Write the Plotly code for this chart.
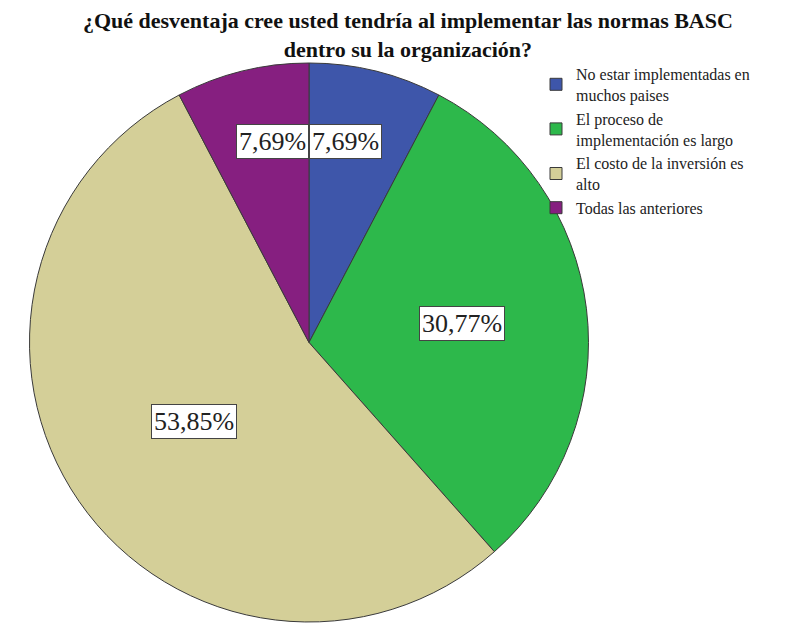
import math
import plotly.graph_objects as go

categories = [
    "No estar implementadas en<br>muchos paises",
    "El proceso de<br>implementación es largo",
    "El costo de la inversión es<br>alto",
    "Todas las anteriores",
]
percentages = [7.69, 30.77, 53.85, 7.69]
value_labels = ["7,69%", "30,77%", "53,85%", "7,69%"]
colors = ["#3E56AA", "#2DB84B", "#D4CF98", "#861F80"]
# label placement style: radius fraction, and horizontal anchor
label_radius = [0.74, 0.55, 0.50, 0.74]
label_anchor = ["left", "center", "center", "right"]

W, H = 789, 624
SERIF = "Liberation Serif, Times New Roman, serif"
dom_x = [28 / W, 590 / W]
dom_y = [1 - 622 / H, 1 - 63 / H]

fig = go.Figure(go.Pie(
    labels=categories,
    values=percentages,
    sort=False,
    direction="clockwise",
    rotation=0,
    textinfo="none",
    hoverinfo="label+percent",
    marker=dict(colors=colors, line=dict(color="#3a3a3a", width=1)),
    domain=dict(x=dom_x, y=dom_y),
))

# pie geometry in pixels
wpx = (dom_x[1] - dom_x[0]) * W
hpx = (dom_y[1] - dom_y[0]) * H
cx = (dom_x[0] + dom_x[1]) / 2 * W
cy = (1 - (dom_y[0] + dom_y[1]) / 2) * H
r = min(wpx, hpx) / 2
total = sum(percentages)
cum = 0.0
annotations = []
for v, txt, lr, anc in zip(percentages, value_labels, label_radius, label_anchor):
    mid = (cum + v / 2) / total * 2 * math.pi
    cum += v
    px = cx + lr * r * math.sin(mid) if anc == "center" else cx
    py = cy - lr * r * math.cos(mid)
    annotations.append(dict(
        x=px / W, y=1 - py / H, xref="paper", yref="paper",
        text=txt, showarrow=False,
        font=dict(family=SERIF, size=26, color="#222222"),
        bgcolor="white", bordercolor="#444444", borderwidth=1, borderpad=2,
        xanchor=anc, yanchor="middle",
    ))

fig.update_layout(
    width=W, height=H,
    margin=dict(l=0, r=0, t=0, b=0),
    paper_bgcolor="white",
    title=dict(
        text="<b>¿Qué desventaja cree usted tendría al implementar las normas BASC<br>dentro su la organización?</b>",
        x=0.517, xanchor="center", y=1 - 28 / H, yanchor="middle",
        font=dict(family=SERIF, size=22, color="#111111"),
    ),
    legend=dict(
        x=536 / W, y=1 - 57 / H, xanchor="left", yanchor="top",
        font=dict(family=SERIF, size=16, color="#222222"),
        bgcolor="rgba(0,0,0,0)", itemwidth=30, tracegroupgap=0,
    ),
    annotations=annotations,
)

fig.write_html("out.html", config={"displayModeBar": False},
               post_script="document.body.style.margin='0px';")
